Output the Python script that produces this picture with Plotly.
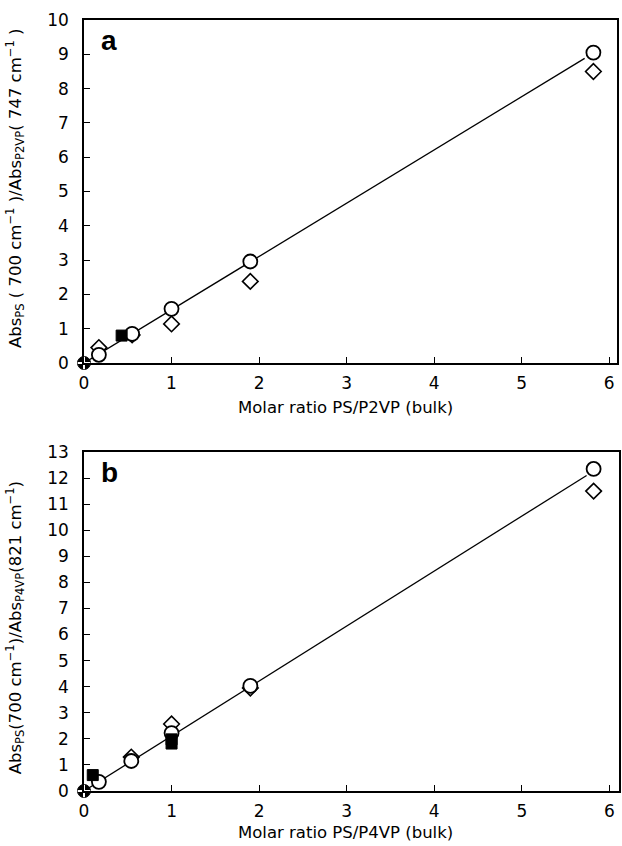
import plotly.graph_objects as go

# ---------------- data ----------------
# Panel a: PS/P2VP
a_circle_x = [0.17, 0.55, 1.0, 1.9, 5.82]
a_circle_y = [0.24, 0.85, 1.58, 2.96, 9.05]
a_diamond_x = [0.17, 0.55, 1.0, 1.9, 5.82]
a_diamond_y = [0.45, 0.82, 1.14, 2.38, 8.5]
a_square_x = [0.43]
a_square_y = [0.80]
a_origin_x = [0.0]
a_origin_y = [0.0]
a_fit_x = [0.0, 5.72]
a_fit_y = [0.0, 8.88]

# Panel b: PS/P4VP
b_circle_x = [0.17, 0.54, 1.0, 1.9, 5.82]
b_circle_y = [0.35, 1.15, 2.22, 4.03, 12.35]
b_diamond_x = [0.54, 1.0, 1.9, 5.82]
b_diamond_y = [1.3, 2.57, 3.95, 11.5]
b_square_x = [0.1, 1.0, 1.0]
b_square_y = [0.61, 1.82, 1.98]
b_origin_x = [0.0]
b_origin_y = [0.0]
b_fit_x = [0.0, 5.74]
b_fit_y = [0.0, 12.1]

x_ticks = [0, 1, 2, 3, 4, 5, 6]
a_y_ticks = list(range(0, 11))
b_y_ticks = list(range(0, 14))

FONT = "DejaVu Sans"
fig = go.Figure()

def add_panel(fig, xa, ya, fx, fy, cx, cy, dx, dy, sx, sy, ox, oy):
    fig.add_trace(go.Scatter(x=fx, y=fy, mode="lines", line=dict(color="black", width=1.3),
                             xaxis=xa, yaxis=ya, showlegend=False, hoverinfo="skip"))
    fig.add_trace(go.Scatter(x=dx, y=dy, mode="markers", xaxis=xa, yaxis=ya, showlegend=False,
                             cliponaxis=False,
                             marker=dict(symbol="diamond-open", size=12, color="black",
                                         line=dict(color="black", width=1.6))))
    fig.add_trace(go.Scatter(x=cx, y=cy, mode="markers", xaxis=xa, yaxis=ya, showlegend=False,
                             cliponaxis=False,
                             marker=dict(symbol="circle", size=14, color="white",
                                         line=dict(color="black", width=1.8))))
    fig.add_trace(go.Scatter(x=sx, y=sy, mode="markers", xaxis=xa, yaxis=ya, showlegend=False,
                             cliponaxis=False,
                             marker=dict(symbol="square", size=11, color="black",
                                         line=dict(color="black", width=1))))
    fig.add_trace(go.Scatter(x=ox, y=oy, mode="markers", xaxis=xa, yaxis=ya, showlegend=False,
                             cliponaxis=False,
                             marker=dict(symbol="circle", size=13, color="black",
                                         line=dict(color="black", width=1))))
    fig.add_trace(go.Scatter(x=ox, y=oy, mode="markers", xaxis=xa, yaxis=ya, showlegend=False,
                             cliponaxis=False,
                             marker=dict(symbol="cross-thin", size=9, color="white",
                                         line=dict(color="white", width=2))))

add_panel(fig, "x", "y", a_fit_x, a_fit_y, a_circle_x, a_circle_y, a_diamond_x, a_diamond_y,
          a_square_x, a_square_y, a_origin_x, a_origin_y)
add_panel(fig, "x2", "y2", b_fit_x, b_fit_y, b_circle_x, b_circle_y, b_diamond_x, b_diamond_y,
          b_square_x, b_square_y, b_origin_x, b_origin_y)

axis_common = dict(showgrid=False, zeroline=False, showline=True, linecolor="black", linewidth=1.5,
                   mirror=True, ticks="inside", ticklen=6, tickwidth=1.2, tickcolor="black",
                   automargin=False,
                   tickfont=dict(family=FONT, size=17, color="black"))

fig.update_layout(
    width=622, height=846,
    margin=dict(l=84, r=3, t=20, b=55, autoexpand=False),
    paper_bgcolor="white", plot_bgcolor="white",
    font=dict(family=FONT, color="black"),
    xaxis=dict(axis_common, domain=[0, 0.9963], range=[0, 6.09], anchor="y",
               tickvals=x_ticks, ticktext=[str(v) for v in x_ticks], ticklabelstandoff=4),
    yaxis=dict(axis_common, domain=[0.5551, 1.0], range=[0, 10], anchor="x",
               tickvals=a_y_ticks, ticktext=[str(v) for v in a_y_ticks], ticklabelstandoff=10),
    xaxis2=dict(axis_common, domain=[0, 1.0], range=[0, 6.11], anchor="y2",
                tickvals=x_ticks, ticktext=[str(v) for v in x_ticks], ticklabelstandoff=4),
    yaxis2=dict(axis_common, domain=[0.0, 0.4397], range=[0, 13], anchor="x2",
                tickvals=b_y_ticks, ticktext=[str(v) for v in b_y_ticks], ticklabelstandoff=10),
)

# x-axis titles
fig.add_annotation(xref="paper", yref="paper", x=0.488, y=0.498, text="Molar ratio PS/P2VP (bulk)",
                   showarrow=False, font=dict(family=FONT, size=16.5, color="black"),
                   xanchor="center", yanchor="middle")
fig.add_annotation(xref="paper", yref="paper", x=0.488, y=-0.0532, text="Molar ratio PS/P4VP (bulk)",
                   showarrow=False, font=dict(family=FONT, size=16.5, color="black"),
                   xanchor="center", yanchor="middle")
# y-axis titles
fig.add_annotation(xref="paper", yref="paper", x=0, y=0.782, xshift=-69, textangle=-90,
                   text="Abs<sub>PS</sub> ( 700 cm<sup>−1</sup> )/Abs<sub>P2VP</sub>( 747 cm<sup>−1</sup> )",
                   showarrow=False, font=dict(family=FONT, size=16.5, color="black"),
                   xanchor="center", yanchor="middle")
fig.add_annotation(xref="paper", yref="paper", x=0, y=0.211, xshift=-69, textangle=-90,
                   text="Abs<sub>PS</sub>(700 cm<sup>−1</sup>)/Abs<sub>P4VP</sub>(821 cm<sup>−1</sup>)",
                   showarrow=False, font=dict(family=FONT, size=16.5, color="black"),
                   xanchor="center", yanchor="middle")
# panel letters
fig.add_annotation(xref="x domain", yref="y domain", x=0, y=1, xshift=15, yshift=-3, text="<b>a</b>",
                   showarrow=False, font=dict(family="Liberation Sans", size=28, color="black"),
                   xanchor="left", yanchor="top")
fig.add_annotation(xref="x2 domain", yref="y2 domain", x=0, y=1, xshift=15, yshift=-3, text="<b>b</b>",
                   showarrow=False, font=dict(family="Liberation Sans", size=28, color="black"),
                   xanchor="left", yanchor="top")

fig.write_html("out.html", config={"displayModeBar": False},
               post_script="document.body.style.margin='0';")
